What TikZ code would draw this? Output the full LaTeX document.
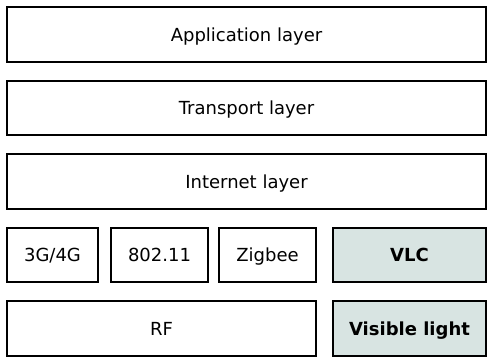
\documentclass[tikz,border=0pt]{standalone}
\usepackage{fontspec}
\setmainfont{DejaVu Sans}
\usepackage{xcolor}
\usetikzlibrary{positioning}

\definecolor{vlcfill}{RGB}{216,228,226}

\begin{document}
\begin{tikzpicture}[
            x=1pt, y=1pt,
            node distance=19pt,
            layer/.style={
                rectangle,
                draw=black,
                line width=1.8pt,
                fill=white,
                outer sep=0pt,
                inner sep=0pt,
                minimum height=54.5pt,
                text height=13pt,
                text depth=0pt,
                font=\fontsize{18}{21}\selectfont
            },
            optical/.style={
                layer,
                fill=vlcfill,
                font=\fontsize{18}{21}\selectfont\bfseries
            }
        ]
            \useasboundingbox (0,0) rectangle (487,-360);

            % --- upper layers ---
            \node [layer, minimum width=479pt] (app) at (246.5,-34.5) {Application layer};
            \node [layer, minimum width=479pt, below=of app] (trans) {Transport layer};
            \node [layer, minimum width=479pt, below=of trans] (inet) {Internet layer};

            % --- access technologies ---
            \node [layer, minimum width=91pt, below=of inet.south west, anchor=north west] (cell) {3G/4G};
            \node [layer, minimum width=97pt, right=13pt of cell] (wifi) {802.11};
            \node [layer, minimum width=97pt, right=11pt of wifi] (zigbee) {Zigbee};
            \node [optical, minimum width=153pt, below=of inet.south east, anchor=north east] (vlc) {VLC};

            % --- physical media ---
            \node [layer, minimum width=309pt, below=of cell.south west, anchor=north west] (rf) {RF};
            \node [optical, minimum width=153pt, below=of vlc] (light) {Visible light};
        \end{tikzpicture}
\end{document}
